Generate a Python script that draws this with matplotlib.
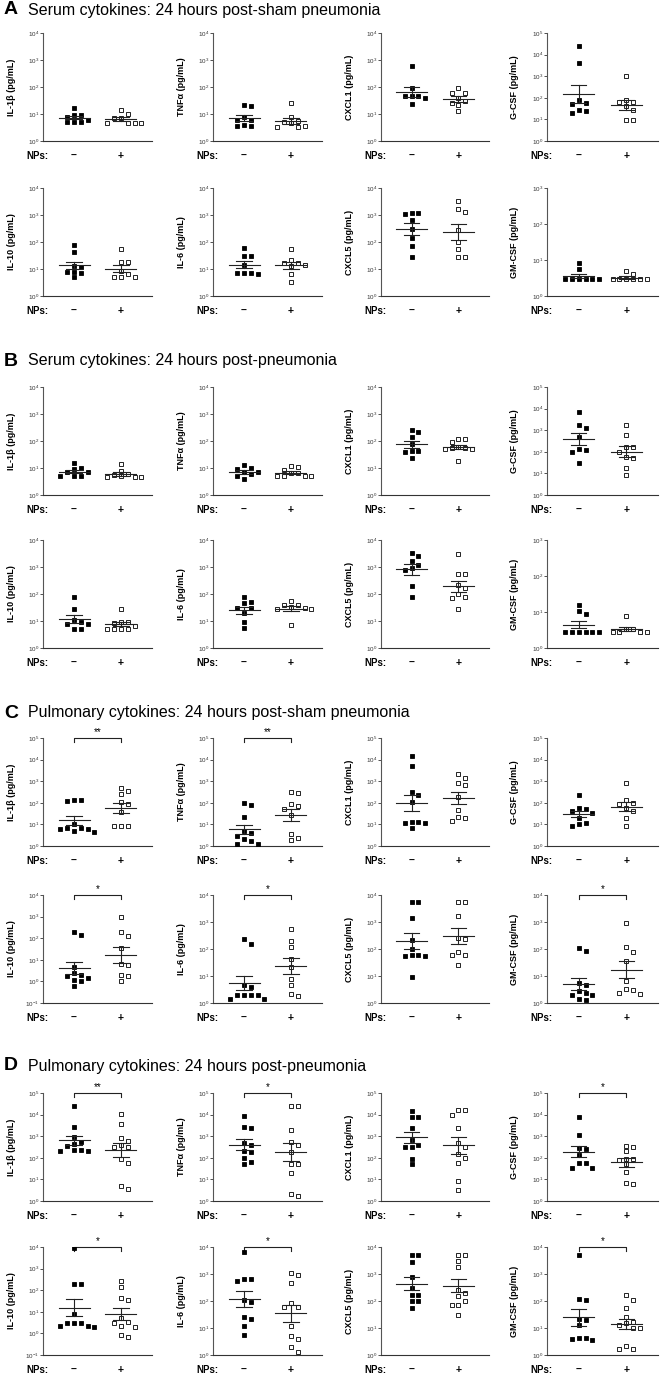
import numpy as np
import matplotlib
matplotlib.use("Agg")
from matplotlib import pyplot as plt
from matplotlib.ticker import NullLocator

plt.rcParams['font.family'] = ['Liberation Sans', 'DejaVu Sans']
plt.rcParams['mathtext.default'] = 'regular'

CYTOKINES = ["IL-1β", "TNFα", "CXCL1", "G-CSF", "IL-10", "IL-6", "CXCL5", "GM-CSF"]
PANEL_LETTERS = ["A", "B", "C", "D"]
PANEL_TITLES = [
    "Serum cytokines: 24 hours post-sham pneumonia",
    "Serum cytokines: 24 hours post-pneumonia",
    "Pulmonary cytokines: 24 hours post-sham pneumonia",
    "Pulmonary cytokines: 24 hours post-pneumonia",
]
GROUP_LABELS = ["\u2013", "+"]

# pg/mL, one list per cytokine (same order as CYTOKINES); CTRL = no NPs, NPS = with NPs
A_CTRL = [
    [16, 9, 9, 8, 5, 5, 5, 6],
    [20, 22, 8, 6, 6, 4, 3.6, 3.6],
    [620, 90, 45, 45, 45, 40, 23],
    [24000, 4100, 80, 55, 50, 28, 20, 25],
    [76, 42, 13, 12, 8, 8, 7, 5],
    [60, 30, 30, 14, 7, 7, 7, 6.5],
    [1200, 1150, 1100, 680, 300, 140, 70, 27],
    [8, 5.5, 3, 3, 3, 3, 3, 3],
]
A_NPS = [
    [14, 10, 7, 7, 4.5, 4.5, 4.5, 4.5],
    [26, 7.5, 5, 5.5, 3.4, 3.4, 3.6, 4.5],
    [90, 60, 60, 38, 30, 22, 13, 25],
    [1000, 80, 65, 65, 40, 28, 9, 9],
    [56, 18, 18, 8.5, 6.5, 5, 5, 5],
    [55, 22, 17, 16, 14, 13, 6.5, 3.3],
    [3400, 1600, 1250, 290, 100, 55, 27, 27],
    [4.2, 4.9, 2.9, 2.9, 2.9, 2.9, 2.9, 2.9],
]
B_CTRL = [
    [15, 10, 9, 7, 7, 5, 5, 5],
    [13, 10, 9, 7, 7, 6, 5, 4],
    [220, 250, 140, 80, 43, 43, 40, 24],
    [7000, 1700, 1300, 500, 120, 140, 100, 31],
    [75, 28, 11, 8, 8, 5, 5, 9],
    [75, 50, 45, 30, 30, 20, 9, 5.5],
    [3200, 2600, 1700, 1200, 950, 780, 200, 80],
    [16, 10.5, 9, 2.8, 2.8, 2.8, 2.8, 2.8, 2.8],
]
B_NPS = [
    [14, 8, 6, 5.5, 5, 4.5, 4.5, 4.5],
    [11, 12, 8.5, 6.5, 6.5, 5, 5, 5, 5],
    [120, 95, 115, 55, 55, 50, 60, 18.5, 50],
    [1700, 600, 170, 170, 100, 60, 50, 17, 8.5],
    [28, 9.5, 9.5, 6.7, 8.4, 5, 5, 5, 5],
    [53, 40, 40, 32, 30, 28, 27, 7],
    [3000, 550, 550, 220, 160, 75, 70, 100, 27],
    [7.5, 3.3, 3.4, 2.8, 2.8, 2.8, 2.8],
]
C_CTRL = [
    [130, 120, 130, 10, 6.5, 6, 5, 4.5, 6.5, 6],
    [95, 80, 21, 5, 4, 3, 2, 1.7, 1.2, 1.2],
    [14000, 5000, 300, 230, 110, 12, 13, 12, 7, 13],
    [230, 60, 50, 40, 35, 20, 12, 10, 8],
    [190, 145, 4.5, 2.5, 2, 1.4, 1.2, 1.8, 0.6, 1.0],
    [150, 230, 4.5, 4, 2, 2, 2, 1.4, 1.4, 2],
    [5600, 5600, 1400, 220, 100, 60, 55, 55, 58, 9],
    [105, 85, 5.5, 4.5, 2.8, 2.3, 2, 2, 1.4, 1.3],
]
C_NPS = [
    [340, 260, 480, 85, 110, 36, 8, 8, 8.5],
    [300, 270, 70, 85, 50, 27, 3.5, 1.8, 2.4],
    [2200, 1400, 800, 700, 190, 46, 23, 20, 14],
    [800, 130, 100, 90, 60, 40, 20, 8],
    [930, 190, 130, 35, 6.5, 5.5, 2, 1.7, 1.0],
    [540, 200, 115, 42, 21, 8, 4.5, 2.2, 1.8],
    [5600, 5600, 1600, 250, 230, 60, 60, 80, 26],
    [950, 120, 80, 35, 6.5, 3.3, 3, 2.2, 2.3],
]
D_CTRL = [
    [25000, 2800, 900, 550, 450, 350, 220, 200, 200, 220],
    [9000, 2700, 2300, 500, 380, 200, 180, 100, 50, 65],
    [15000, 8000, 8000, 2300, 700, 400, 300, 300, 90, 50],
    [8000, 1100, 250, 280, 140, 55, 35, 35, 55],
    [9000, 190, 200, 7.5, 3, 2.2, 2, 2.2, 3, 3],
    [6600, 650, 550, 650, 110, 90, 25, 22, 12, 5.5],
    [5000, 5000, 2700, 800, 300, 160, 160, 100, 100, 55],
    [4900, 110, 120, 22, 13, 20, 4.2, 3.5, 4, 4.3],
]
D_NPS = [
    [11000, 3500, 800, 400, 330, 330, 600, 90, 55, 3.5, 5],
    [25000, 25000, 1900, 550, 380, 180, 52, 52, 19, 1.7, 2],
    [17000, 10000, 17000, 2300, 500, 300, 150, 100, 60, 8, 3.2],
    [300, 200, 370, 90, 80, 90, 50, 23, 6, 7],
    [260, 140, 45, 35, 5, 3.5, 3, 2, 2.2, 0.7, 0.8],
    [1100, 950, 450, 60, 60, 85, 12, 5, 4, 2, 1.3],
    [5000, 5000, 3000, 1800, 250, 200, 70, 70, 100, 30, 150],
    [170, 110, 56, 26, 17, 15, 13, 10, 10, 2.2, 1.7, 1.6],
]

# y-axis range as (lowest, highest) power of ten
SERUM_DECADES = [(0, 4), (0, 4), (0, 4), (0, 5), (0, 4), (0, 4), (0, 4), (0, 3)]
LUNG_DECADES = [(0, 5), (0, 5), (0, 5), (0, 5), (-1, 4), (0, 4), (0, 4), (0, 4)]

NO_STARS = [""] * 8
C_STARS = ["**", "**", "", "", "*", "*", "", "*"]
D_STARS = ["**", "*", "", "*", "*", "*", "", "*"]

PANELS = [
    (A_CTRL, A_NPS, SERUM_DECADES, NO_STARS),
    (B_CTRL, B_NPS, SERUM_DECADES, NO_STARS),
    (C_CTRL, C_NPS, LUNG_DECADES, C_STARS),
    (D_CTRL, D_NPS, LUNG_DECADES, D_STARS),
]

# layout in pixels of the 668x1388 image
FIG_W, FIG_H = 668, 1388
COL_LEFT = [43, 213, 381, 547]
COL_WIDTH = [109, 109, 108, 111]
ROW_TOP = [[33, 188], [387, 540], [738, 895], [1093, 1247]]
TITLE_Y = [10, 361, 713, 1066]
AX_H = 108
XLIM = (0.34, 2.66)
STEP = 0.145       # horizontal spacing of points, data units
GAP_PX = 5.5       # vertical collision distance, pixels


def swarm_offsets(values, lo, hi):
    ypx = (np.log10(values) - lo) / (hi - lo) * AX_H
    order = np.argsort(-ypx)
    offs = np.zeros(len(values))
    placed = []
    for i in order:
        k = 0
        while True:
            cands = [0] if k == 0 else [k, -k]
            ok = None
            for c in cands:
                x = c * STEP
                if all(abs(ypx[i] - ypx[j]) >= GAP_PX or abs(x - offs[j]) >= STEP * 0.95 for j in placed):
                    ok = x
                    break
            if ok is not None:
                offs[i] = ok
                break
            k += 1
        placed.append(i)
    return offs


def draw_group(ax, vals, xpos, lo, hi, filled):
    vals = np.asarray(vals, dtype=float)
    xs = xpos + swarm_offsets(vals, lo, hi)
    ax.plot(xs, vals, linestyle="none", marker="s", markersize=3.5,
            markerfacecolor="black" if filled else "white",
            markeredgecolor="black", markeredgewidth=0.6, zorder=3)
    logs = np.log10(vals)
    m = logs.mean()
    se = logs.std(ddof=1) / np.sqrt(len(logs))
    ax.plot([xpos - 0.33, xpos + 0.33], [10 ** m, 10 ** m], color="#222222", lw=0.8, zorder=4)
    for e in (m - se, m + se):
        ax.plot([xpos - 0.16, xpos + 0.16], [10 ** e, 10 ** e], color="#222222", lw=0.8, zorder=4)
    ax.plot([xpos, xpos], [10 ** (m - se), 10 ** (m + se)], color="#222222", lw=0.8, zorder=4)


fig = plt.figure(figsize=(FIG_W / 100, FIG_H / 100), dpi=100)

for p, (ctrl, nps, decades, stars) in enumerate(PANELS):
    ty = 1 - TITLE_Y[p] / FIG_H
    fig.text(4 / FIG_W, ty, PANEL_LETTERS[p], fontsize=14, weight="bold", va="center")
    fig.text(28 / FIG_W, ty, PANEL_TITLES[p], fontsize=11.5, va="center")
    for k in range(8):
        r, c = divmod(k, 4)
        top = ROW_TOP[p][r]
        ax = fig.add_axes([COL_LEFT[c] / FIG_W, 1 - (top + AX_H) / FIG_H,
                           COL_WIDTH[c] / FIG_W, AX_H / FIG_H])
        lo, hi = decades[k]
        ax.set_yscale("log")
        ax.set_ylim(10.0 ** lo, 10.0 ** hi)
        ax.set_xlim(*XLIM)
        ax.set_yticks([10.0 ** e for e in range(lo, hi + 1)])
        ax.set_yticklabels([rf"$10^{{{e}}}$" for e in range(lo, hi + 1)])
        ax.yaxis.set_minor_locator(NullLocator())
        ax.tick_params(axis="y", labelsize=4.5, length=2, width=0.6, pad=1, colors="#333333")
        ax.set_xticks([])
        for side in ("top", "right"):
            ax.spines[side].set_visible(False)
        ax.spines["left"].set_color("#555555")
        ax.spines["bottom"].set_color("#333333")
        ax.spines["left"].set_linewidth(0.8)
        ax.spines["bottom"].set_linewidth(0.8)
        ax.set_ylabel(f"{CYTOKINES[k]} (pg/mL)", fontsize=6.5, weight="bold")
        ax.yaxis.set_label_coords(-0.25, 0.5)

        draw_group(ax, ctrl[k], 1, lo, hi, True)
        draw_group(ax, nps[k], 2, lo, hi, False)

        trans = ax.get_xaxis_transform()
        ax.text(0.05, -0.14, "NPs:", transform=ax.transAxes, ha="right", va="center",
                fontsize=7, weight="bold")
        for x, lab in zip([1, 2], GROUP_LABELS):
            ax.text(x, -0.14, lab, transform=trans, ha="center", va="center",
                    fontsize=7.5, weight="bold")

        if stars[k]:
            ytop = 10.0 ** hi
            ydn = 10.0 ** (hi - 4.0 / AX_H * (hi - lo))
            ax.plot([1, 1, 2, 2], [ydn, ytop, ytop, ydn], color="#222222", lw=0.8, clip_on=False)
            ax.annotate(stars[k], xy=(1.5, ytop), xytext=(0, 0.5), textcoords="offset points",
                        ha="center", va="bottom", fontsize=7)

fig.savefig("out.png", dpi=100)
